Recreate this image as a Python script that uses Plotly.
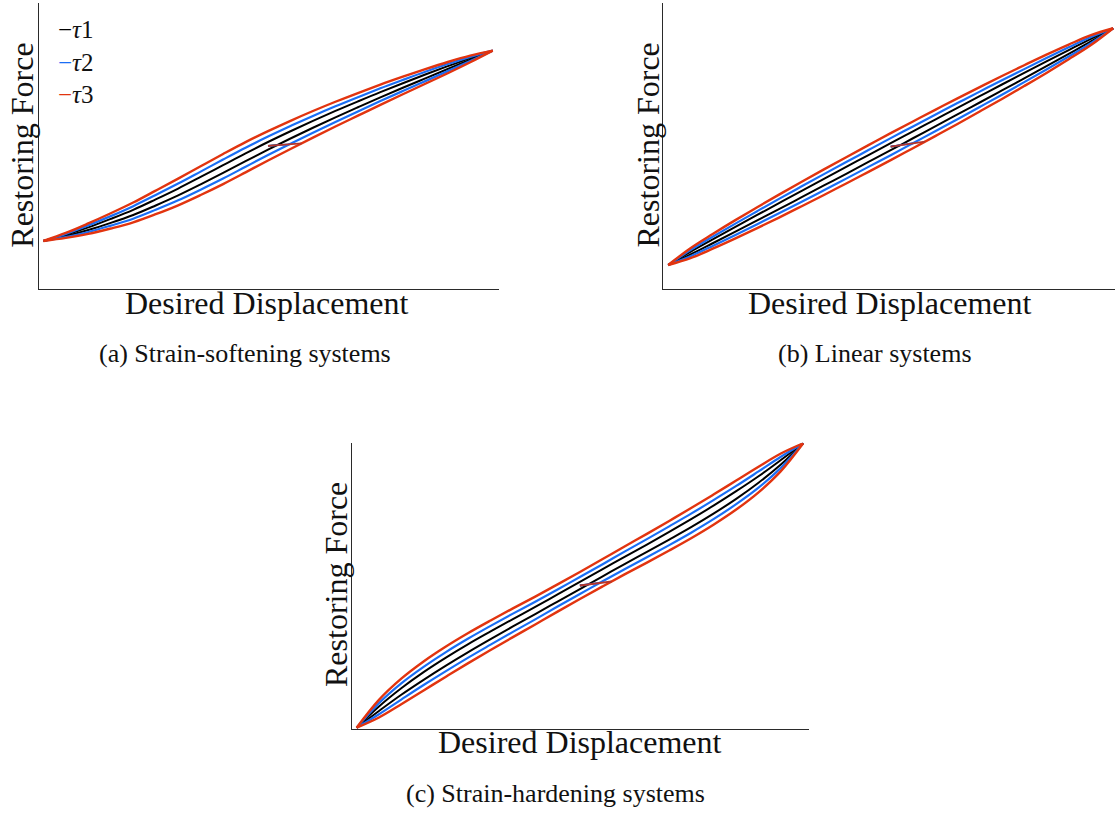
import numpy as np
import plotly.graph_objects as go

W, H = 1115, 813

# normalised desired displacement grid shared by all loops
disp = [-1.0, -0.9, -0.8, -0.7, -0.6, -0.5, -0.4, -0.3, -0.2, -0.1, 0.0,
        0.1, 0.2, 0.3, 0.4, 0.5, 0.6, 0.7, 0.8, 0.9, 1.0]

# (a) strain-softening: centre line of the loops and half-height of each loop
soft_mid = [-1.0, -0.942, -0.871, -0.789, -0.700, -0.595, -0.485, -0.366, -0.244, -0.120, 0.0,
            0.115, 0.226, 0.333, 0.436, 0.537, 0.634, 0.729, 0.822, 0.913, 1.0]
soft_hw_t1 = [0, 0.007, 0.014, 0.021, 0.027, 0.032, 0.036, 0.039, 0.041, 0.041, 0.040,
              0.038, 0.036, 0.034, 0.031, 0.028, 0.024, 0.020, 0.015, 0.009, 0]
soft_hw_t2 = [0, 0.016, 0.035, 0.050, 0.066, 0.078, 0.088, 0.095, 0.100, 0.100, 0.097,
              0.093, 0.088, 0.082, 0.075, 0.067, 0.058, 0.049, 0.037, 0.022, 0]
soft_hw_t3 = [0, 0.026, 0.055, 0.080, 0.104, 0.124, 0.140, 0.151, 0.158, 0.159, 0.154,
              0.148, 0.140, 0.130, 0.119, 0.106, 0.092, 0.077, 0.059, 0.035, 0]
soft_start = [0.04, 0.095, 0.15]

# (b) linear
lin_mid = [-1.0, -0.9, -0.8, -0.7, -0.6, -0.5, -0.4, -0.3, -0.2, -0.1, 0.0,
           0.1, 0.2, 0.3, 0.4, 0.5, 0.6, 0.7, 0.8, 0.9, 1.0]
lin_hw_t1 = [0, 0.011, 0.016, 0.020, 0.023, 0.025, 0.027, 0.028, 0.029, 0.029, 0.030,
             0.029, 0.029, 0.028, 0.027, 0.025, 0.023, 0.020, 0.016, 0.011, 0]
lin_hw_t2 = [0, 0.026, 0.039, 0.048, 0.055, 0.061, 0.065, 0.068, 0.070, 0.071, 0.072,
             0.071, 0.070, 0.068, 0.065, 0.061, 0.055, 0.048, 0.039, 0.026, 0]
lin_hw_t3 = [0, 0.042, 0.062, 0.077, 0.088, 0.097, 0.103, 0.108, 0.111, 0.113, 0.114,
             0.113, 0.111, 0.108, 0.103, 0.097, 0.088, 0.077, 0.062, 0.042, 0]
lin_start = [0.04, 0.10, 0.154]

# (c) strain-hardening
hard_mid = [-1.0, -0.866, -0.745, -0.636, -0.535, -0.440, -0.350, -0.262, -0.176, -0.088, 0.0,
            0.088, 0.176, 0.262, 0.350, 0.440, 0.535, 0.636, 0.745, 0.866, 1.0]
hard_hw_t1 = [0, 0.016, 0.023, 0.027, 0.028, 0.028, 0.027, 0.026, 0.025, 0.025, 0.025,
              0.025, 0.025, 0.026, 0.027, 0.028, 0.028, 0.027, 0.023, 0.016, 0]
hard_hw_t2 = [0, 0.039, 0.057, 0.064, 0.067, 0.067, 0.066, 0.064, 0.062, 0.060, 0.060,
              0.060, 0.062, 0.064, 0.066, 0.067, 0.067, 0.064, 0.057, 0.039, 0]
hard_hw_t3 = [0, 0.062, 0.090, 0.102, 0.106, 0.106, 0.104, 0.101, 0.098, 0.096, 0.095,
              0.096, 0.098, 0.101, 0.104, 0.106, 0.106, 0.102, 0.090, 0.062, 0]
hard_start = [0.035, 0.09, 0.142]

series_names = ["τ1", "τ2", "τ3"]
colors = ["#000000", "#1a6ef5", "#e2340f"]
widths = [2.0, 2.2, 2.4]

captions = ["(a) Strain-softening systems", "(b) Linear systems", "(c) Strain-hardening systems"]

# panel boxes in pixels (left, right, top, bottom) and axis ranges
panels = [
    dict(mid=soft_mid, hws=[soft_hw_t1, soft_hw_t2, soft_hw_t3], start=soft_start,
         box=(39.3, 499, 3, 289.3), xr=[-1.018, 1.028], yr=[-1.508, 1.501]),
    dict(mid=lin_mid, hws=[lin_hw_t1, lin_hw_t2, lin_hw_t3], start=lin_start,
         box=(663.3, 1115, 3.3, 289.3), xr=[-1.022, 1.008], yr=[-1.205, 1.211]),
    dict(mid=hard_mid, hws=[hard_hw_t1, hard_hw_t2, hard_hw_t3], start=hard_start,
         box=(351.7, 809, 442.7, 729), xr=[-1.022, 1.026], yr=[-1.009, 1.004]),
]

fig = go.Figure()
x = np.array(disp)

for i, p in enumerate(panels):
    xa = "x" if i == 0 else f"x{i + 1}"
    ya = "y" if i == 0 else f"y{i + 1}"
    mid = np.array(p["mid"])
    for k in range(3):
        hw = np.array(p["hws"][k])
        lower = mid - hw
        upper = mid + hw
        line = dict(color=colors[k], width=widths[k], shape="spline", smoothing=1.0)
        fig.add_trace(go.Scatter(x=x, y=lower, mode="lines", line=line, xaxis=xa, yaxis=ya,
                                 name=series_names[k], showlegend=False, hoverinfo="skip"))
        fig.add_trace(go.Scatter(x=x, y=upper, mode="lines", line=line, xaxis=xa, yaxis=ya,
                                 name=series_names[k], showlegend=False, hoverinfo="skip"))
        # initial loading from rest onto the lower branch
        xj = p["start"][k]
        yj = float(np.interp(xj, x, lower))
        fig.add_trace(go.Scatter(x=[0, xj], y=[0, yj], mode="lines",
                                 line=dict(color="#b5352a" if k == 2 else colors[k], width=1.8),
                                 xaxis=xa, yaxis=ya, showlegend=False, hoverinfo="skip"))

axis_common = dict(showline=True, linecolor="#2a2a2a", linewidth=1, showgrid=False,
                   zeroline=False, showticklabels=False, ticks="", mirror=False, fixedrange=True)

layout_axes = {}
for i, p in enumerate(panels):
    l, r, t, b = p["box"]
    sx = "" if i == 0 else str(i + 1)
    layout_axes[f"xaxis{sx}"] = dict(axis_common, domain=[l / W, r / W], range=p["xr"],
                                     anchor=f"y{sx}")
    layout_axes[f"yaxis{sx}"] = dict(axis_common, domain=[1 - b / H, 1 - t / H], range=p["yr"],
                                     anchor=f"x{sx}")

serif = "Liberation Serif"
ann = []


def text_at(px, py, txt, size, angle=0, xanchor="center", align="center"):
    ann.append(dict(x=px / W, y=1 - py / H, xref="paper", yref="paper", text=txt,
                    showarrow=False, textangle=angle, xanchor=xanchor, yanchor="middle",
                    align=align, font=dict(family=serif, size=size, color="#111111")))


# axis titles
for cx, cy in [(267, 303), (890, 303), (580, 742)]:
    text_at(cx, cy, "Desired Displacement", 32)
for cx, cy in [(22, 145.7), (647.5, 145), (336, 585)]:
    text_at(cx, cy, "Restoring Force", 32, angle=-90)

# sub-figure captions
for (cx, cy), cap in zip([(245, 353), (875, 353), (555, 793)], captions):
    text_at(cx, cy, cap, 26)

# legend in panel (a): one block, coloured dash before each series name
legend_rows = [f"<span style='color:{colors[k]}'>−</span><i>τ</i>{k + 1}" for k in range(3)]
text_at(56, 62.5, "<br>".join(legend_rows), 25, xanchor="left", align="left")

fig.update_layout(width=W, height=H, margin=dict(l=0, r=0, t=0, b=0),
                  paper_bgcolor="white", plot_bgcolor="white", showlegend=False,
                  annotations=ann, **layout_axes)

fig.write_html("out.html")
